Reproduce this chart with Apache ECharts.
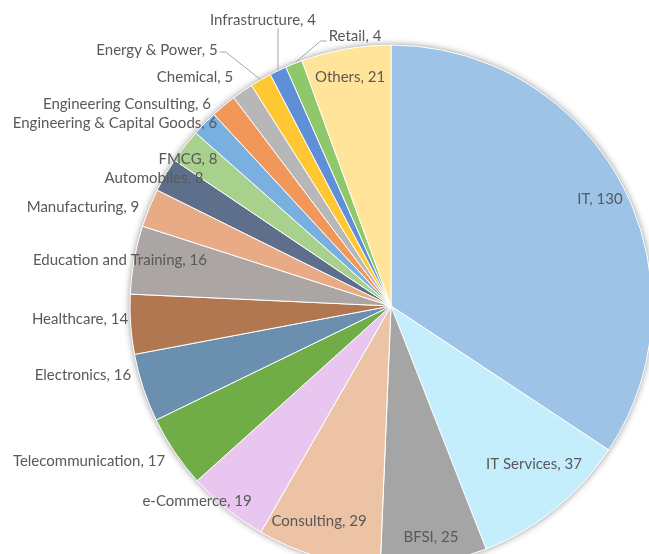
<!DOCTYPE html>
<html>
<head>
<meta charset="utf-8">
<script src="https://cdn.jsdelivr.net/npm/echarts@6/dist/echarts.min.js"></script>
<style>
html,body{margin:0;padding:0;background:#fff;}
#chart{width:649px;height:554px;}
</style>
</head>
<body>
<div id="chart"></div>
<script>
// ---- data ----
var categories = ['IT','IT Services','BFSI','Consulting','e-Commerce','Telecommunication','Electronics','Healthcare','Education and Training','Manufacturing','Automobiles','FMCG','Engineering & Capital Goods','Engineering Consulting','Chemical','Energy & Power','Infrastructure','Retail','Others'];
var values = [130,37,25,29,19,17,16,14,16,9,8,8,6,6,5,5,4,4,21];

// ---- styling ----
var colors = ['#9DC3E6','#C4EEFC','#A5A5A5','#EDC3A5','#E8C6F0','#70AD47','#6A8FAF','#B07750','#ABA6A3','#E8AB85','#5E6F8C','#A9D18E','#7AB0E0','#F1975A','#B7B7B7','#FFC832','#5F8FD6','#8EC86A','#FFE49A'];
// label offsets from pie centre (px)
var labelOffsets = [[209,-107],[143,158],[40,231],[-72,215],[-194,195],[-302,155],[-308,69],[-311,13],[-271,-46],[-308,-99],[-237,-128],[-203,-147],[-276,-183],[-264,-202],[-196,-229],[-234,-256],[-128,-286],[-36,-270],[-41,-229]];
// leader line: which side of the label it leaves from
var leaderSide = {15: 'right', 16: 'bottom', 17: 'left'};
var cx = 391, cy = 306, R = 261;

var total = values.reduce(function(a,b){return a+b;},0);
var midAngles = [];
(function(){
  var acc = 0;
  values.forEach(function(v){
    midAngles.push((acc + v/2) / total * 2 * Math.PI);
    acc += v;
  });
})();

var data = categories.map(function(c,i){
  var lead = leaderSide[i] != null;
  return {
    name: c, value: values[i],
    itemStyle: {color: colors[i]},
    label: {position: lead ? 'outside' : 'inside'},
    labelLine: {show: lead}
  };
});

var chart = echarts.init(document.getElementById('chart'), null, {renderer:'canvas'});
chart.setOption({
  animation: false,
  backgroundColor: '#ffffff',
  series: [
    {
      type: 'pie', silent: true, z: 1,
      center: [cx, cy], radius: R,
      startAngle: 90,
      label: {show: false}, labelLine: {show: false},
      itemStyle: {color: '#ffffff', shadowBlur: 7, shadowColor: 'rgba(0,0,0,0.45)'},
      data: [{name: 'shadow', value: total}]
    },
    {
      type: 'pie', z: 2,
      center: [cx, cy], radius: R,
      startAngle: 90, clockwise: true,
      avoidLabelOverlap: false,
      itemStyle: {borderColor: '#ffffff', borderWidth: 1},
      label: {
        show: true,
        formatter: '{b}, {c}',
        color: '#595959',
        fontFamily: 'Lato',
        fontSize: 15,
        overflow: 'none'
      },
      labelLine: {lineStyle: {color: '#a6a6a6', width: 1}},
      labelLayout: function(p){
        var i = p.dataIndex;
        var o = labelOffsets[i];
        var lx = cx + o[0], ly = cy + o[1];
        var res = {x: lx, y: ly, align: 'center', verticalAlign: 'middle'};
        var side = leaderSide[i];
        if (side) {
          var w = p.labelRect.width, h = p.labelRect.height;
          var a = midAngles[i];
          var ax = cx + R * Math.sin(a), ay = cy - R * Math.cos(a);
          var pts;
          if (side === 'right') {
            pts = [[lx + w/2 + 2, ly + 2], [lx + w/2 + 8, ly + 2], [ax, ay]];
          } else if (side === 'left') {
            pts = [[lx - w/2 - 2, ly + 5], [lx - w/2 - 8, ly + 5], [ax, ay]];
          } else {
            pts = [[ax, ly + h/2 + 1], [ax, ay]];
          }
          res.labelLinePoints = pts;
        }
        return res;
      },
      data: data
    }
  ]
});
</script>
</body>
</html>
